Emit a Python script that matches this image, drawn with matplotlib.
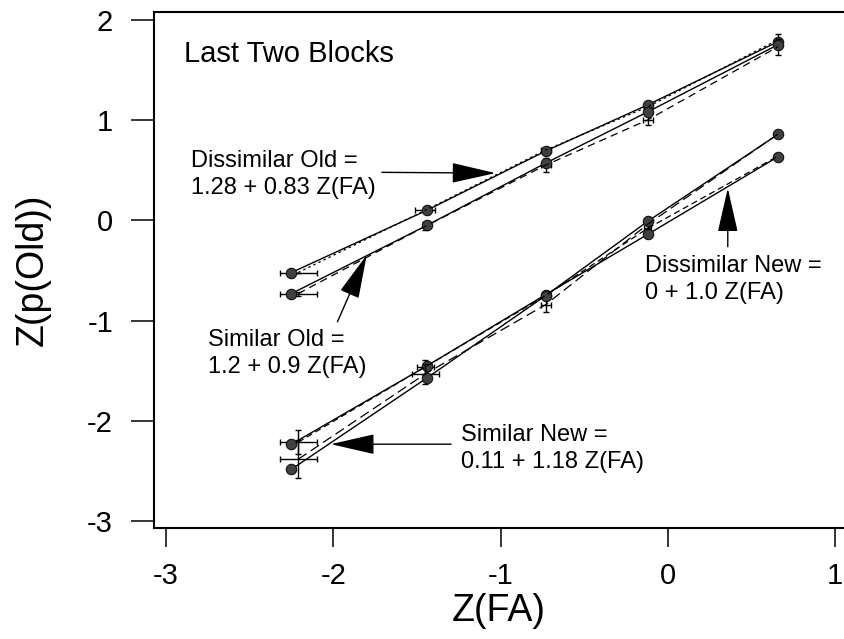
import matplotlib
matplotlib.use("Agg")
import matplotlib.pyplot as plt

plt.rcParams['font.family'] = ['Liberation Sans', 'DejaVu Sans']

# z-transformed false-alarm rates (shared by all four conditions)
zfa = [-2.25, -1.44, -0.73, -0.12, 0.66]
zfa_b = [-2.21, -1.45, -0.73, -0.12, 0.66]

# observed z(p(old)) per condition
dis_old = [-0.52, 0.10, 0.69, 1.15, 1.78]
sim_old = [-0.73, -0.05, 0.57, 1.08, 1.75]
dis_new = [-2.23, -1.45, -0.74, -0.14, 0.634]
sim_new = [-2.48, -1.57, -0.75, -0.01, 0.857]

# second set (dashed) with standard errors
dis_old_b = [-0.52, 0.10, 0.70, 1.13, 1.80]
dis_old_xerr = [0.11, 0.06, 0.03, 0.0, 0.0]
dis_old_yerr = [0.0, 0.0, 0.0, 0.0, 0.06]
sim_old_b = [-0.73, -0.06, 0.55, 1.00, 1.73]
sim_old_xerr = [0.11, 0.0, 0.03, 0.03, 0.0]
sim_old_yerr = [0.02, 0.04, 0.07, 0.05, 0.08]
dis_new_b = [-2.21, -1.46, -0.75, -0.08, 0.64]
dis_new_xerr = [0.11, 0.05, 0.0, 0.02, 0.0]
dis_new_yerr = [0.12, 0.07, 0.02, 0.04, 0.0]
sim_new_b = [-2.38, -1.53, -0.84, -0.04, 0.86]
sim_new_xerr = [0.11, 0.08, 0.03, 0.0, 0.0]
sim_new_yerr = [0.19, 0.10, 0.07, 0.05, 0.01]

x_ticks = [-3, -2, -1, 0, 1]
y_ticks = [-3, -2, -1, 0, 1, 2]

fig = plt.figure(figsize=(8.44, 6.39), dpi=100)
ax = fig.add_axes([0.1825, 0.1737, 0.8175, 0.8075])

dashes = {
    'do': (2, 2.5),
    'so': (6, 4),
    'dn': (5, 3),
    'sn': (8, 4),
}

series = [
    (dis_old, dis_old_b, dis_old_xerr, dis_old_yerr, dashes['do']),
    (sim_old, sim_old_b, sim_old_xerr, sim_old_yerr, dashes['so']),
    (dis_new, dis_new_b, dis_new_xerr, dis_new_yerr, dashes['dn']),
    (sim_new, sim_new_b, sim_new_xerr, sim_new_yerr, dashes['sn']),
]

for obs, fit, xe, ye, dsh in series:
    ax.errorbar(zfa_b, fit, xerr=xe, yerr=ye, color='black', lw=0.9,
                dashes=dsh, elinewidth=1.0, capsize=2.5, capthick=1.0)
    ax.plot(zfa, obs, color='black', lw=1.0, marker='o', ms=7.5,
            mfc='#404040', mec='#111111', mew=0.8)

ax.set_xlim(-3.072, 1.054)
ax.set_ylim(-3.065, 2.075)
ax.set_xticks(x_ticks)
ax.set_yticks(y_ticks)
ax.set_xticklabels([str(v) for v in x_ticks])
ax.set_yticklabels([str(v) for v in y_ticks])

ax.spines['right'].set_visible(False)
for s in ['left', 'top', 'bottom']:
    ax.spines[s].set_linewidth(1.5)
ax.tick_params(axis='x', direction='out', length=13.5, width=1.1, pad=11, labelsize=21)
ax.tick_params(axis='y', direction='out', length=16.5, width=1.1, pad=13, labelsize=21)
ax.tick_params(top=False, right=False)

ax.set_xlabel('Z(FA)', fontsize=27, labelpad=2)
ax.set_ylabel('Z(p(Old))', fontsize=27, labelpad=26)

ax.text(-2.895, 1.66, 'Last Two Blocks', fontsize=21, va='center', ha='left')

arrow = dict(arrowstyle='-|>,head_length=1.4,head_width=0.32', color='black',
             lw=1.0, mutation_scale=20, shrinkA=0, shrinkB=0)
ax.annotate('', xy=(-1.03, 0.47), xytext=(-1.71, 0.478), arrowprops=arrow)
ax.annotate('', xy=(-1.80, -0.345), xytext=(-1.975, -1.01), arrowprops=arrow)
ax.annotate('', xy=(0.359, 0.319), xytext=(0.359, -0.263), arrowprops=arrow)
ax.annotate('', xy=(-2.015, -2.23), xytext=(-1.295, -2.23), arrowprops=arrow)

lbl = dict(fontsize=17, va='center', ha='left', linespacing=1.3)
ax.text(-2.85, 0.46, 'Dissimilar Old =\n1.28 + 0.83 Z(FA)', **lbl)
ax.text(-2.75, -1.33, 'Similar Old =\n1.2 + 0.9 Z(FA)', **lbl)
ax.text(-0.134, -0.594, 'Dissimilar New =\n0 + 1.0 Z(FA)', **lbl)
ax.text(-1.237, -2.27, 'Similar New =\n0.11 + 1.18 Z(FA)', **lbl)

fig.savefig('out.png', dpi=100)
